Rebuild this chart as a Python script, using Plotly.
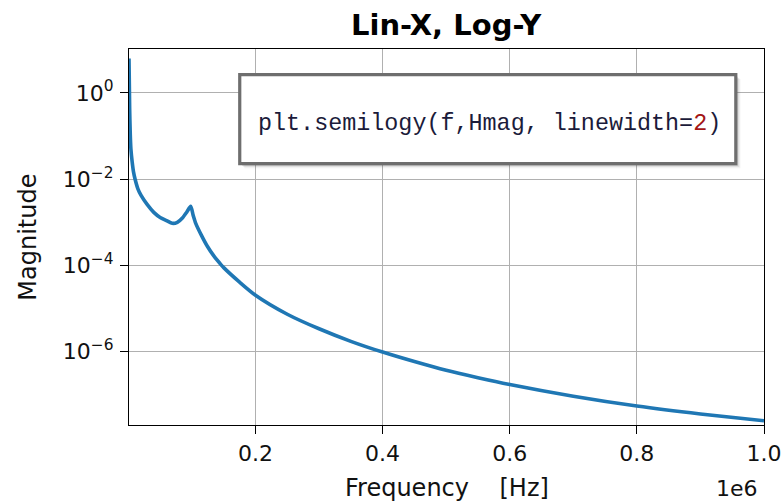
import plotly.graph_objects as go

# Frequency response samples
freq_hz = [1000, 2000, 3000, 4000, 6000, 8000, 10600, 15000, 20000, 29500,
           40000, 50000, 60000, 69000, 77000, 85000, 92000, 98000, 102000, 106000,
           115000, 124500, 135000, 145600, 150000, 175000, 200000, 250000, 300000, 350000,
           400000, 450000, 500000, 550000, 600000, 700000, 800000, 900000, 1000000]
magnitude = [6.3, 0.45, 0.11, 0.050, 0.025, 0.015, 0.010, 6.0e-3, 4.2e-3, 2.6e-3,
             1.7e-3, 1.3e-3, 1.1e-3, 9.5e-4, 1.0e-3, 1.26e-3, 1.74e-3, 2.35e-3, 1.45e-3, 9.5e-4,
             5.0e-4, 2.75e-4, 1.62e-4, 1.05e-4, 8.9e-5, 4.1e-5, 2.04e-5, 7.4e-6, 3.4e-6, 1.74e-6,
             9.8e-7, 5.9e-7, 3.7e-7, 2.5e-7, 1.74e-7, 9.3e-8, 5.5e-8, 3.6e-8, 2.5e-8]

x_tick_vals = [200000, 400000, 600000, 800000, 1000000]
x_tick_text = ["0.2", "0.4", "0.6", "0.8", "1.0"]
y_tick_vals = [1, 1e-2, 1e-4, 1e-6]
y_tick_text = ["10<sup>0</sup>", "10<sup>\u22122</sup>", "10<sup>\u22124</sup>", "10<sup>\u22126</sup>"]

FONT = "DejaVu Sans"
INK = "#111111"

fig = go.Figure()
fig.add_trace(go.Scatter(
    x=freq_hz, y=magnitude, mode="lines",
    line=dict(color="#1f77b4", width=3.6, shape="spline", smoothing=0.7),
    showlegend=False, hoverinfo="skip",
))

axis_common = dict(
    showline=True, linecolor="black", linewidth=1.3, mirror=True,
    ticks="outside", ticklen=8, tickwidth=1.3, tickcolor="black",
    showgrid=True, gridcolor="#b0b0b0", gridwidth=1,
    zeroline=False, automargin=False,
    tickfont=dict(family=FONT, size=22, color=INK),
)

fig.update_xaxes(
    range=[freq_hz[0], freq_hz[-1]],
    tickvals=x_tick_vals, ticktext=x_tick_text,
    **axis_common,
)
fig.update_yaxes(
    type="log", range=[-7.70, 1.02],
    tickvals=y_tick_vals, ticktext=y_tick_text,
    ticklabelstandoff=2,
    **axis_common,
)

# Axis titles and the x scale factor
fig.add_annotation(xref="paper", yref="paper", x=0.5, y=-0.167, text="Frequency    [Hz]",
                   showarrow=False, xanchor="center", yanchor="middle",
                   font=dict(family=FONT, size=24, color=INK))
fig.add_annotation(xref="paper", yref="paper", x=-0.1596, y=0.5, text="Magnitude",
                   textangle=-90, showarrow=False, xanchor="center", yanchor="middle",
                   font=dict(family=FONT, size=24, color=INK))
fig.add_annotation(xref="paper", yref="paper", x=0.994, y=-0.170, text="1e6",
                   showarrow=False, xanchor="right", yanchor="middle",
                   font=dict(family=FONT, size=22, color=INK))

# Code callout box with a soft drop shadow
bx0, bx1, by0, by1 = 0.1744, 0.9556, 0.695, 0.932
for off, op in [(0.012, 0.08), (0.009, 0.12), (0.006, 0.16), (0.003, 0.2)]:
    fig.add_shape(type="rect", xref="paper", yref="paper",
                  x0=bx0 + off * 0.6, x1=bx1 + off * 0.6, y0=by0 - off, y1=by1 - off,
                  fillcolor=f"rgba(90,90,90,{op})", line=dict(width=0), layer="above")
fig.add_shape(type="rect", xref="paper", yref="paper",
              x0=bx0, x1=bx1, y0=by0, y1=by1,
              fillcolor="white", line=dict(color="#6e6e6e", width=3.2), layer="above")
fig.add_annotation(
    xref="paper", yref="paper", x=(bx0 + bx1) / 2 + 0.002, y=(by0 + by1) / 2 - 0.014,
    text=("<span style='color:#1b1b3a'>plt.semilogy(f,Hmag, linewidth=</span>"
          "<span style='color:#a31515'>2</span>"
          "<span style='color:#1b1b3a'>)</span>"),
    showarrow=False, font=dict(family="Liberation Mono", size=23.4, color="#1b1b3a"),
    xanchor="center", yanchor="middle",
)

fig.update_layout(
    width=784, height=502,
    margin=dict(l=129, r=20, t=49, b=77),
    paper_bgcolor="white", plot_bgcolor="white",
    title=dict(text="<b>Lin-X, Log-Y</b>", x=0.569, xanchor="center", y=0.951, yanchor="middle",
               font=dict(family=FONT, size=29, color="black")),
)

fig.write_html("out.html")
